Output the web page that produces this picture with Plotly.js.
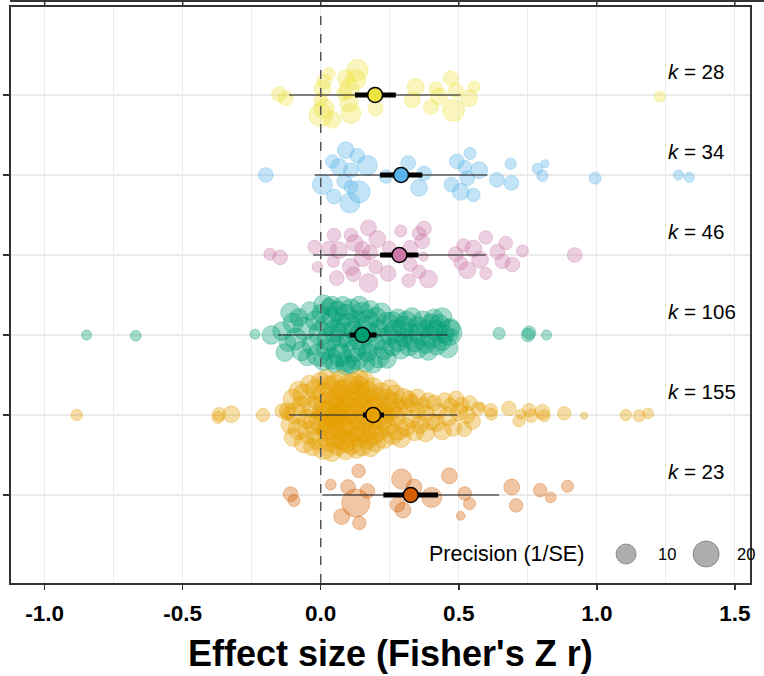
<!DOCTYPE html>
<html>
<head>
<meta charset="utf-8">
<script src="https://cdn.plot.ly/plotly-3.0.1.min.js"></script>
<style>html,body{margin:0;padding:0;background:#fff;}#plot{width:764px;height:676px;}</style>
</head>
<body>
<div id="plot"></div>
<script>
// ---- data ----
const groupNames = ['Yellow group', 'Blue group', 'Pink group', 'Green group', 'Orange group', 'Red group'];
const groupRows = [6, 5, 4, 3, 2, 1];
const groupColors = ['240,228,66', '86,180,233', '204,121,167', '0,158,115', '230,159,0', '213,94,0'];
const kValues = [28, 34, 46, 106, 155, 23];

const meanES = [0.197, 0.291, 0.285, 0.151, 0.190, 0.326];
const ciLow  = [0.124, 0.215, 0.215, 0.105, 0.153, 0.227];
const ciHigh = [0.272, 0.368, 0.354, 0.202, 0.229, 0.425];
const piLow  = [-0.115, -0.022, -0.027, -0.155, -0.115, 0.006];
const piHigh = [0.507, 0.604, 0.598, 0.459, 0.495, 0.646];

const yellowES = [-0.151,-0.127,0.030,0.012,0.006,0.000,0.012,0.000,0.042,0.091,0.103,0.133,0.127,0.085,0.103,0.109,0.199,0.344,0.332,0.417,0.399,0.429,0.471,0.489,0.537,0.556,0.481,1.228];
const yellowJit = [0.01,-0.04,0.27,0.17,0.08,-0.06,-0.17,-0.25,-0.31,0.21,0.08,0.31,0.19,0.02,-0.10,-0.23,-0.17,0.10,-0.06,0.08,-0.15,-0.02,0.21,0.06,-0.04,0.10,-0.19,-0.02];
const yellowPrec = [4,4,2,4,6,3,10,15,6,6,10,12,10,4,8,10,4,6,5,3,4,6,4,4,6,2,13,1.3];

const blueES = [-0.199,0.006,0.048,0.042,0.066,0.091,0.133,0.109,0.085,0.109,0.139,0.106,0.169,0.236,0.317,0.374,0.356,0.493,0.541,0.522,0.574,0.531,0.473,0.507,0.553,0.638,0.688,0.691,0.785,0.812,0.803,0.994,1.296,1.335];
const blueJit = [0,-0.12,-0.27,0.17,0.10,0.31,0.24,0.06,-0.08,-0.15,-0.21,-0.35,0.12,-0.02,0.15,0.02,-0.16,0.17,0.27,0.10,0.06,-0.04,-0.12,-0.21,-0.25,-0.06,0.14,-0.10,0.08,0.14,-0.01,-0.04,0,-0.03];
const bluePrec = [4,10,4,3,6,6,4,4,4,3,13,10,10,3,4,4,6,4,2,3,6,4,4,6,3,4,1.6,4,1.3,0.3,1.6,2,1,1];

const pinkES = [-0.184,-0.147,-0.022,-0.012,0.048,0.030,0.066,0.046,0.058,0.109,0.123,0.109,0.118,0.151,0.173,0.205,0.179,0.199,0.173,0.248,0.244,0.290,0.324,0.324,0.318,0.356,0.374,0.368,0.372,0.356,0.390,0.489,0.517,0.507,0.531,0.553,0.577,0.598,0.598,0.640,0.670,0.658,0.694,0.731,0.920,0.151];
const pinkJit = [0.01,-0.03,0.10,-0.15,0.25,0.08,0.06,-0.08,-0.29,0.25,0.15,-0.15,-0.24,-0.04,0.34,0.20,0.03,-0.15,-0.35,0.09,-0.23,0.30,0.09,-0.12,-0.32,0.27,0.33,0.17,-0.02,-0.21,-0.30,0.01,0.12,-0.10,-0.19,0.08,-0.06,0.22,-0.23,0.04,0.15,-0.08,-0.12,0.05,0,0.08];
const pinkPrec = [2,4,3,1.3,3,4,6,2,4,3,6,6,4,6,5,6,4,3,8,3,5,2,4,3,3,3,4,4,0.7,3,7,4,3,3,6,6,6,3,2,4,3,4,4,2,4,4];

const greenES = [-0.14,-0.12,-0.10,-0.09,-0.08,-0.07,-0.06,-0.05,-0.04,-0.03,-0.02,-0.01,0.00,0.00,0.01,0.02,0.02,0.03,0.03,0.04,
  0.04,0.05,0.05,0.06,0.06,0.07,0.07,0.08,0.08,0.09,0.09,0.10,0.10,0.11,0.11,0.12,0.12,0.13,0.13,0.14,
  0.14,0.15,0.15,0.16,0.16,0.17,0.17,0.18,0.18,0.19,0.19,0.20,0.21,0.21,0.22,0.22,0.23,0.24,0.24,0.25,
  0.26,0.26,0.27,0.28,0.28,0.29,0.30,0.30,0.31,0.32,0.32,0.33,0.34,0.35,0.35,0.36,0.37,0.38,0.38,0.39,
  0.40,0.40,0.41,0.42,0.42,0.43,0.44,0.44,0.45,0.46,0.47,-0.11,-0.13,0.01,0.04,0.09,
  -0.848,-0.670,-0.238,-0.179,0.646,0.751,0.755,0.818,0.465,0.477];
const greenJit = [0.05,-0.10,0.15,-0.05,0.22,-0.20,0.08,-0.28,0.30,-0.12,0.18,-0.25,0.02,0.27,-0.33,0.12,-0.18,0.35,-0.05,0.22,
  -0.30,0.05,-0.36,0.30,-0.15,0.15,-0.25,0.36,0.00,-0.33,0.25,-0.08,0.12,-0.37,0.32,-0.20,0.05,0.20,-0.30,-0.03,
  0.37,-0.15,0.28,0.10,-0.34,-0.22,0.18,0.03,0.32,-0.10,-0.36,0.22,-0.28,0.08,-0.05,0.28,-0.18,0.15,-0.30,0.00,
  0.16,-0.15,0.05,-0.08,0.21,-0.18,0.10,-0.03,0.17,-0.13,0.04,0.22,-0.07,0.12,-0.17,0.01,0.18,-0.10,0.08,-0.20,
  0.14,-0.03,0.21,-0.13,0.05,0.13,-0.08,0.22,0.01,-0.16,0.09,0.28,-0.22,0.38,0.36,-0.38,
  0,-0.01,0.01,0,0.02,0,0.03,0,0.03,0];
const greenPrec = [8,6,10,12,7,9,14,6,8,11,9,13,16,7,8,12,10,6,15,9,
  11,13,7,10,12,8,14,9,17,10,12,9,15,8,11,13,10,7,12,16,
  8,9,11,13,10,8,12,9,7,14,8,10,11,7,13,9,10,12,8,9,
  11,7,14,10,8,9,12,8,10,11,7,9,13,8,10,12,9,11,7,8,
  10,12,8,9,11,10,8,9,7,10,8,9,7,9,10,9,
  1,1.3,1,8,2,2.9,2.9,1,19,2];

const orangeES = [-0.12,-0.11,-0.10,-0.10,-0.09,-0.08,-0.08,-0.07,-0.06,-0.06,-0.05,-0.04,-0.04,-0.03,-0.03,-0.02,-0.02,-0.01,-0.01,0.00,
  0.00,0.01,0.01,0.02,0.02,0.02,0.03,0.03,0.03,0.04,0.04,0.04,0.05,0.05,0.05,0.06,0.06,0.06,0.07,0.07,0.07,0.08,0.08,0.08,0.09,0.09,0.09,0.10,0.10,0.10,0.01,0.03,0.05,0.07,0.09,
  0.11,0.11,0.12,0.12,0.12,0.13,0.13,0.13,0.14,0.14,0.14,0.15,0.15,0.15,0.16,0.16,0.16,0.17,0.17,0.17,0.18,0.18,0.18,0.19,0.19,0.19,0.20,0.20,0.20,0.14,
  0.21,0.21,0.22,0.22,0.23,0.23,0.24,0.24,0.25,0.25,0.26,0.26,0.27,0.27,0.28,0.28,0.29,0.30,
  0.31,0.31,0.32,0.33,0.33,0.34,0.35,0.35,0.36,0.37,0.38,0.38,0.39,0.40,
  0.41,0.42,0.43,0.44,0.45,0.46,0.47,0.48,0.49,0.50,
  0.51,0.52,0.53,0.54,0.55,0.57,
  -0.884,-0.368,-0.372,-0.324,-0.209,-0.139,-0.121,
  0.580,0.616,0.618,0.682,0.718,0.725,0.755,0.763,0.803,0.809,0.882,0.954,1.105,1.153,1.186];
const orangeJit = [0.05,-0.12,0.20,-0.28,0.02,0.30,-0.18,0.12,-0.35,0.25,-0.05,0.38,-0.22,0.10,-0.40,0.32,-0.10,0.18,-0.30,0.42,
  -0.08,0.28,-0.42,0.12,-0.20,0.45,0.00,-0.33,0.36,0.20,-0.12,-0.46,0.06,0.40,-0.26,-0.04,0.24,-0.38,0.14,-0.16,0.44,0.02,-0.30,0.32,-0.10,0.18,-0.44,0.08,-0.22,0.38,0.04,-0.15,-0.02,0.30,-0.32,
  0.22,-0.35,0.05,0.40,-0.18,-0.02,0.30,-0.42,0.15,-0.26,0.36,-0.08,0.24,-0.38,0.10,-0.20,0.42,0.00,-0.30,0.28,0.18,-0.12,-0.40,0.06,0.34,-0.24,-0.04,0.22,-0.34,0.45,
  0.12,-0.20,0.28,-0.05,0.02,-0.30,0.18,-0.14,0.32,0.06,-0.24,0.14,-0.02,0.26,-0.18,0.08,-0.28,0.20,
  0.10,-0.15,0.20,-0.05,0.15,-0.20,0.05,0.22,-0.12,0.12,-0.22,0.02,0.18,-0.08,
  0.15,-0.10,0.05,-0.20,0.18,-0.02,0.12,-0.16,0.20,0.04,
  0.12,-0.18,0.00,0.15,-0.08,0.08,
  0,0.01,-0.03,0.01,0,0.05,0.02,
  0.10,0.06,0.01,0.08,-0.075,0.01,0.06,-0.01,0.04,-0.01,0.02,-0.01,0,-0.01,0.02];
const orangePrec = [6,8,10,7,12,9,11,8,10,13,9,8,14,11,7,10,15,9,12,8,
  15,10,12,18,9,8,20,11,10,13,16,9,22,8,12,17,11,10,14,19,8,16,12,10,18,13,9,20,11,10,14,17,12,9,15,
  12,14,17,10,13,18,11,9,16,12,10,15,13,11,19,12,9,14,10,13,11,15,9,17,10,12,14,11,9,8,
  12,10,9,14,11,8,13,10,9,12,11,14,10,8,12,9,10,11,
  6,8,5,7,6,9,5,6,7,5,8,6,5,7,
  5,6,4,7,5,8,4,6,5,7,
  5,4,6,4,5,3,
  1.6,2.9,2,5.9,2.9,4,2.9,
  0.5,2.9,2,4,2,1,2.9,2.9,4,2,2.9,0.1,1.6,2,1.3];

const redES = [-0.109,-0.097,0.036,0.137,0.099,0.169,0.127,0.076,0.140,0.293,0.338,0.278,0.298,0.402,0.466,0.522,0.539,0.507,0.692,0.708,0.795,0.833,0.894];
const redJit = [0.01,-0.07,0.13,0.30,0.10,0.05,-0.10,-0.27,-0.35,0.20,0.10,-0.12,-0.19,-0.03,0.24,0.02,-0.11,-0.26,0.10,-0.13,0.06,-0.03,0.11];
const redPrec = [4,2,1.3,3,4,4,24,5,3,10,5,4,5,10,5,3,2,0.5,5,3,3,1.3,2];

const xTickVals = [-1, -0.5, 0, 0.5, 1, 1.5];
const xTickText = ['-1.0', '-0.5', '0.0', '0.5', '1.0', '1.5'];
const xMinorVals = [-0.75, -0.25, 0.25, 0.75, 1.25];
const legendPrec = [10, 20];

// ---- drawing ----
const groupES = [yellowES, blueES, pinkES, greenES, orangeES, redES];
const groupJit = [yellowJit, blueJit, pinkJit, greenJit, orangeJit, redJit];
const groupPrec = [yellowPrec, bluePrec, pinkPrec, greenPrec, orangePrec, redPrec];

const xRange = [-1.122, 1.555];
const yRange = [-0.1, 7.1];
function sizeFor(p) { return 5.5 + 4.6 * Math.sqrt(p); }
const SANS = 'Liberation Sans, Arial, Helvetica, sans-serif';

const traces = [];
groupES.forEach((es, g) => {
  traces.push({
    type: 'scatter', mode: 'markers', name: groupNames[g],
    x: es, y: groupJit[g].map(j => groupRows[g] + j),
    marker: {
      size: groupPrec[g].map(sizeFor),
      color: 'rgba(' + groupColors[g] + ',0.5)',
      line: { color: 'rgba(' + groupColors[g] + ',0.55)', width: 1 }
    },
    hoverinfo: 'x'
  });
});
groupES.forEach((es, g) => {
  traces.push({
    type: 'scatter', mode: 'lines', x: [piLow[g], piHigh[g]], y: [groupRows[g], groupRows[g]],
    line: { color: 'rgba(40,40,40,0.75)', width: 1.5 }, hoverinfo: 'skip'
  });
  traces.push({
    type: 'scatter', mode: 'lines', x: [ciLow[g], ciHigh[g]], y: [groupRows[g], groupRows[g]],
    line: { color: '#000', width: 5 }, hoverinfo: 'skip'
  });
  traces.push({
    type: 'scatter', mode: 'markers', x: [meanES[g]], y: [groupRows[g]],
    marker: { size: 15, color: 'rgb(' + groupColors[g] + ')', line: { color: '#000', width: 1.6 } },
    hoverinfo: 'x'
  });
});
// size legend keys
traces.push({
  type: 'scatter', mode: 'markers', x: [1.106, 1.396], y: [0.2625, 0.2625],
  marker: { size: legendPrec.map(sizeFor), color: 'rgba(0,0,0,0.45)', line: { color: 'rgba(0,0,0,0.5)', width: 1 } },
  cliponaxis: false, hoverinfo: 'skip'
});

function paperX(v) { return (v - xRange[0]) / (xRange[1] - xRange[0]); }
const plotH = 676 - 7 - 93;
const topLineY = 1 + 6 / plotH;
const shapes = [
  { type: 'line', xref: 'x', yref: 'paper', x0: 0, x1: 0, y0: 0, y1: 1,
    line: { color: '#555', width: 1.5, dash: 'dash' }, layer: 'above' },
  { type: 'line', xref: 'paper', yref: 'paper', x0: -1 / 739, x1: 1.03, y0: topLineY, y1: topLineY,
    line: { color: '#333', width: 2 } }
];
xTickVals.forEach(v => {
  shapes.push({ type: 'line', xref: 'paper', yref: 'paper', x0: paperX(v), x1: paperX(v),
    y0: topLineY, y1: topLineY - 5 / plotH, line: { color: '#333', width: 1.5 } });
});

const annotations = groupRows.map((r, g) => ({
  x: 1.25, y: r + 0.29, xref: 'x', yref: 'y', xanchor: 'left', yanchor: 'middle',
  text: '<i>k</i> = ' + kValues[g], showarrow: false,
  font: { family: SANS, size: 20.5, color: '#000' }
}));
annotations.push({
  x: 0.962, y: 0.2625, xref: 'x', yref: 'y', xanchor: 'right', yanchor: 'middle',
  text: 'Precision (1/SE)', showarrow: false,
  font: { family: SANS, size: 21.5, color: '#000' }
});
legendPrec.forEach((p, i) => {
  annotations.push({
    x: [1.216, 1.499][i], y: 0.2625, xref: 'x', yref: 'y', xanchor: 'left', yanchor: 'middle',
    text: String(p), showarrow: false,
    font: { family: SANS, size: 16.5, color: '#000' }
  });
});
annotations.push({
  x: 0.513, y: -0.123, xref: 'paper', yref: 'paper', xanchor: 'center', yanchor: 'middle',
  text: "Effect size (Fisher's Z r)", showarrow: false,
  font: { family: SANS, size: 36, weight: 'bold', color: '#000' }
});

const layout = {
  width: 764, height: 676,
  margin: { l: 11, r: 14, t: 7, b: 93 },
  paper_bgcolor: '#fff', plot_bgcolor: '#fff',
  showlegend: false,
  xaxis: {
    range: xRange, tickmode: 'array', tickvals: xTickVals, ticktext: xTickText,
    ticks: 'outside', ticklen: 5, tickwidth: 1.5, tickcolor: '#333', ticklabelstandoff: 4,
    showline: true, mirror: true, linecolor: '#333', linewidth: 1.8,
    showgrid: true, gridcolor: '#ebebeb', gridwidth: 1.3, zeroline: false,
    minor: { tickmode: 'array', tickvals: xMinorVals, showgrid: true, gridcolor: '#ebebeb', gridwidth: 1, ticks: '' },
    tickfont: { family: SANS, size: 22.5, weight: 'bold', color: '#000' }
  },
  yaxis: {
    range: yRange, tickmode: 'array', tickvals: groupRows, showticklabels: false,
    ticks: 'outside', ticklen: 6, tickwidth: 1.5, tickcolor: '#333',
    showline: true, mirror: true, linecolor: '#333', linewidth: 1.8,
    showgrid: true, gridcolor: '#ebebeb', gridwidth: 1.3, zeroline: false
  },
  shapes: shapes,
  annotations: annotations
};

Plotly.newPlot('plot', traces, layout, { displayModeBar: false, staticPlot: true });
</script>
</body>
</html>
